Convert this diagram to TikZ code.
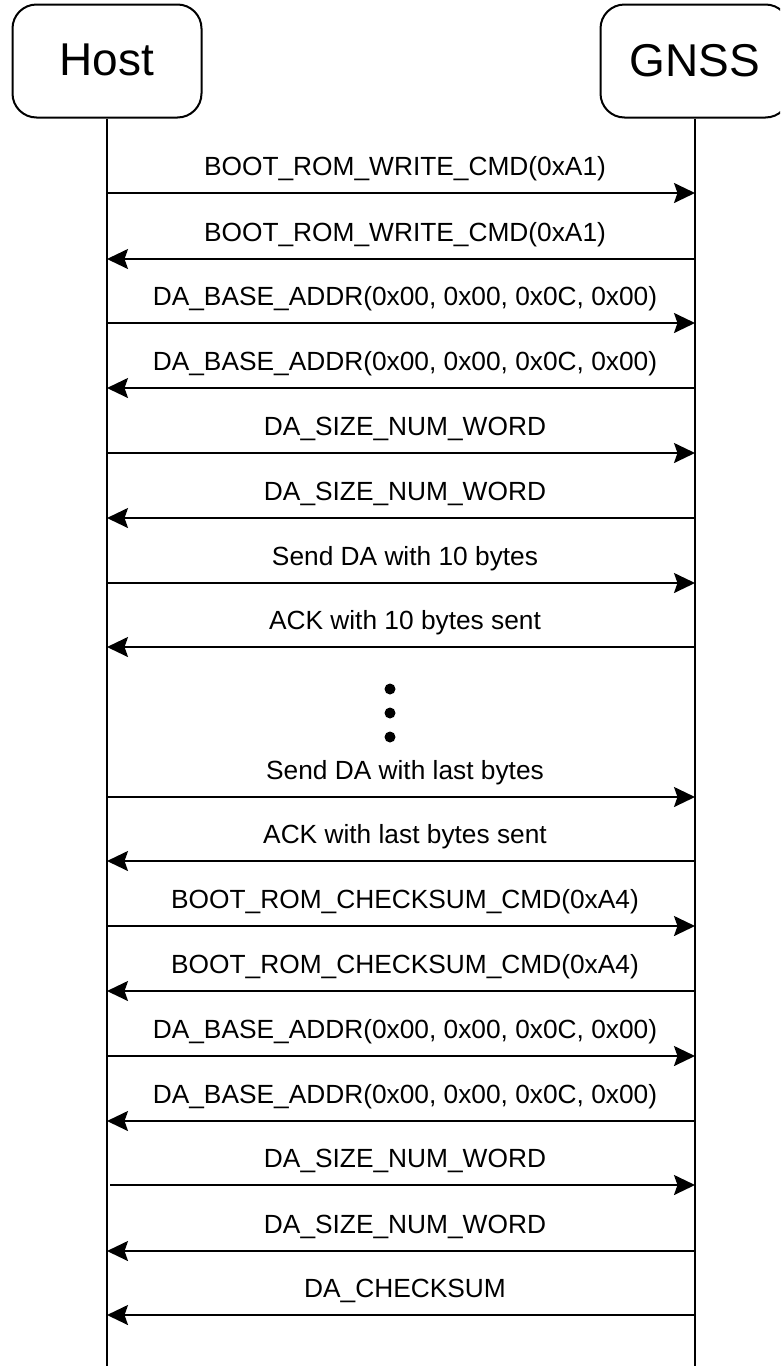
\documentclass[tikz,border=0pt]{standalone}
\usepackage{fontspec}
\setmainfont{Liberation Sans}
\usetikzlibrary{arrows.meta}

\tikzset{
  actor/.style={draw, line width=2pt, rounded corners=24pt,
    minimum width=189pt, minimum height=113pt, inner sep=0pt,
    font=\fontsize{46}{50}\selectfont},
  lifeline/.style={line width=2pt},
  msg/.style={line width=2pt, -{Stealth[length=21pt,width=20pt,inset=3.5pt]}},
  msglabel/.style={font=\fontsize{26.3}{30}\selectfont, anchor=base, inner sep=0pt},
  gapdot/.style={circle, fill, inner sep=0pt, minimum size=11pt},
}

\begin{document}
\begin{tikzpicture}[x=1pt,y=-1pt]
\useasboundingbox (0,0) rectangle (780,1366);
\clip (0,0) rectangle (780,1366);

% participants
\node[actor] (host) at (107,61) {\raisebox{2pt}{Host}};
\node[actor] (gnss) at (695,61) {\raisebox{2pt}{GNSS}};

% lifelines
\coordinate (hend) at (107,1370);
\coordinate (gend) at (695,1370);
\draw[lifeline] (host.south) -- (hend);
\draw[lifeline] (gnss.south) -- (gend);

% message anchor points on both lifelines
\foreach \i/\y in {1/193,2/259,3/323,4/388,5/453,6/518,7/583,8/647,
                   9/797,10/861,11/926,12/991,13/1056,14/1121,16/1251,17/1315}{
  \coordinate (h\i) at (107,\y);
  \coordinate (g\i) at (695,\y);
}
\coordinate (h15) at (110,1185);
\coordinate (g15) at (695,1185);

% Host -> GNSS
\foreach \i/\y/\txt in {
  1/193/{BOOT\_ROM\_WRITE\_CMD(0xA1)},
  3/323/{DA\_BASE\_ADDR(0x00, 0x00, 0x0C, 0x00)},
  5/453/{DA\_SIZE\_NUM\_WORD},
  7/583/{Send DA with 10 bytes},
  9/797/{Send DA with last bytes},
  11/926/{BOOT\_ROM\_CHECKSUM\_CMD(0xA4)},
  13/1056/{DA\_BASE\_ADDR(0x00, 0x00, 0x0C, 0x00)},
  15/1185/{DA\_SIZE\_NUM\_WORD}}{
  \draw[msg] (h\i) -- (g\i);
  \node[msglabel] (l\i) at (405,\y-18) {\txt};
}

% GNSS -> Host
\foreach \i/\y/\txt in {
  2/259/{BOOT\_ROM\_WRITE\_CMD(0xA1)},
  4/388/{DA\_BASE\_ADDR(0x00, 0x00, 0x0C, 0x00)},
  6/518/{DA\_SIZE\_NUM\_WORD},
  8/647/{ACK with 10 bytes sent},
  10/861/{ACK with last bytes sent},
  12/991/{BOOT\_ROM\_CHECKSUM\_CMD(0xA4)},
  14/1121/{DA\_BASE\_ADDR(0x00, 0x00, 0x0C, 0x00)},
  16/1251/{DA\_SIZE\_NUM\_WORD},
  17/1315/{DA\_CHECKSUM}}{
  \draw[msg] (g\i) -- (h\i);
  \node[msglabel] (l\i) at (405,\y-18) {\txt};
}

% omitted transfers
\node[gapdot] (d1) at (390,689) {};
\node[gapdot] (d2) at (390,713) {};
\node[gapdot] (d3) at (390,737) {};
\end{tikzpicture}
\end{document}
